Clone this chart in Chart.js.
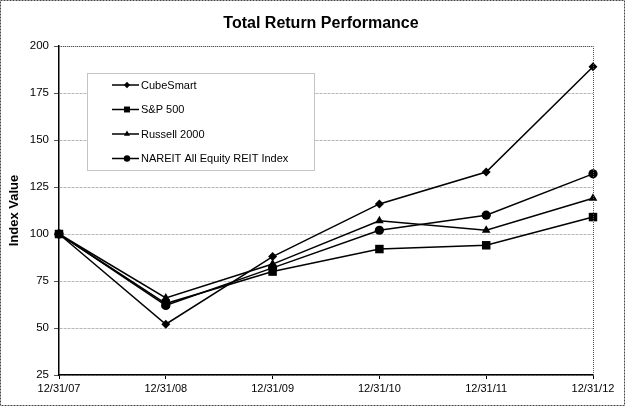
<!DOCTYPE html>
<html>
<head>
  <meta charset="UTF-8">
  <script src="https://cdn.jsdelivr.net/npm/chart.js@4.4.0/dist/chart.umd.min.js"></script>
  <style>
    body { margin: 0; background: #fff; }
    #wrap { width: 625px; height: 406px; }
  </style>
</head>
<body>
  <div id="wrap"><canvas id="perfChart"></canvas></div>
  <script>
    const dates = ["12/31/07", "12/31/08", "12/31/09", "12/31/10", "12/31/11", "12/31/12"]
    const cubeSmart = [100, 52, 88, 116, 133, 189]
    const sp500 = [100, 63, 80, 92, 94, 109]
    const russell2000 = [100, 66, 84, 107, 102, 119]
    const nareit = [100, 62, 82, 102, 110, 132]
    const yTicks = [25, 50, 75, 100, 125, 150, 175, 200]
    const chartTitle = "Total Return Performance"

    Chart.defaults.font.family = "'Liberation Sans', Arial, sans-serif"
    Chart.defaults.color = "#000"

    const series = [
      { label: "CubeSmart", data: cubeSmart, pointStyle: "rectRot", radius: 4.5 },
      { label: "S&P 500", data: sp500, pointStyle: "rect", radius: 6 },
      { label: "Russell 2000", data: russell2000, pointStyle: "triangle", radius: 5 },
      { label: "NAREIT All Equity REIT Index", data: nareit, pointStyle: "circle", radius: 4.6 }
    ]

    // white page, dotted frame, title, plot border
    const frame = {
      id: "frame",
      beforeDraw(chart) {
        const ctx = chart.ctx
        ctx.save()
        ctx.fillStyle = "#fff"
        ctx.fillRect(0, 0, chart.width, chart.height)
        ctx.strokeStyle = "#444"
        ctx.setLineDash([2, 1])
        ctx.lineWidth = 1
        ctx.strokeRect(0.5, 0.5, chart.width - 1, chart.height - 1)
        ctx.setLineDash([])
        ctx.fillStyle = "#000"
        ctx.font = "bold 16px 'Liberation Sans', Arial, sans-serif"
        ctx.textAlign = "center"
        ctx.textBaseline = "middle"
        ctx.fillText(chartTitle, 321, 24)
        ctx.restore()
      },
      afterDraw(chart) {
        const a = chart.chartArea
        const ctx = chart.ctx
        ctx.save()
        ctx.strokeStyle = "#555"
        ctx.setLineDash([1, 1])
        ctx.lineWidth = 1
        ctx.beginPath()
        ctx.moveTo(a.left, a.top + 0.5)
        ctx.lineTo(a.right + 0.5, a.top + 0.5)
        ctx.lineTo(a.right + 0.5, a.bottom)
        ctx.stroke()
        ctx.restore()
      }
    }

    // legend box drawn inside the plot area
    const legendBox = {
      id: "legendBox",
      beforeDatasetsDraw(chart) {
        const a = chart.chartArea
        const ctx = chart.ctx
        const left = a.left + 28, top = a.top + 27, w = 227, h = 97
        ctx.save()
        ctx.fillStyle = "#fff"
        ctx.fillRect(left, top, w, h)
        ctx.strokeStyle = "#888"
        ctx.setLineDash([1, 1])
        ctx.lineWidth = 1
        ctx.strokeRect(left + 0.5, top + 0.5, w, h)
        ctx.setLineDash([])
        ctx.font = "11px 'Liberation Sans', Arial, sans-serif"
        ctx.textBaseline = "middle"
        chart.data.datasets.forEach((ds, i) => {
          const y = top + 12 + i * 24.5
          ctx.strokeStyle = "#000"
          ctx.lineWidth = 1.5
          ctx.beginPath()
          ctx.moveTo(left + 25, y)
          ctx.lineTo(left + 52, y)
          ctx.stroke()
          ctx.fillStyle = "#000"
          Chart.helpers.drawPoint(ctx, {
            pointStyle: ds.pointStyle,
            radius: ds.pointRadius * 0.7,
            rotation: 0,
            borderWidth: 0
          }, left + 40, y)
          ctx.fillStyle = "#000"
          ctx.fillText(ds.label, left + 54, y + 0.5)
        })
        ctx.restore()
      }
    }

    const ctx = document.getElementById("perfChart").getContext("2d")

    const chart = new Chart(ctx, {
      type: "line",
      data: {
        labels: dates,
        datasets: series.map(s => ({
          label: s.label,
          data: s.data,
          borderColor: "#000",
          backgroundColor: "#000",
          borderWidth: 1.5,
          pointStyle: s.pointStyle,
          pointRadius: s.radius,
          pointBackgroundColor: "#000",
          pointBorderColor: "#000",
          pointBorderWidth: 0,
          tension: 0,
          clip: false
        }))
      },
      options: {
        responsive: true,
        maintainAspectRatio: false,
        animation: false,
        layout: { padding: { left: 4, right: 32, top: 46, bottom: 0 } },
        plugins: {
          legend: { display: false },
          tooltip: { enabled: false },
          title: { display: false }
        },
        scales: {
          x: {
            offset: false,
            afterFit(scale) { scale.height = 31 },
            grid: {
              display: true,
              drawOnChartArea: false,
              drawTicks: true,
              tickLength: 4,
              tickColor: "#000"
            },
            border: { color: "#000", width: 1.5 },
            ticks: { autoSkip: false, maxRotation: 0, padding: 3, color: "#000", font: { size: 11 } }
          },
          y: {
            min: yTicks[0],
            max: yTicks[yTicks.length - 1],
            afterFit(scale) { scale.width = 55 },
            afterBuildTicks(scale) { scale.ticks = yTicks.map(v => ({ value: v })) },
            grid: {
              color: "#b8b8b8",
              tickLength: 5,
              tickColor: "#555"
            },
            border: { color: "#000", width: 1.5, dash: [3, 1] },
            ticks: { padding: 5, color: "#000", font: { size: 11.5 } },
            title: {
              display: true,
              text: "Index Value",
              color: "#000",
              font: { size: 13, weight: "bold" },
              padding: { top: 3, bottom: 0 }
            }
          }
        }
      },
      plugins: [frame, legendBox]
    })
  </script>
</body>
</html>
